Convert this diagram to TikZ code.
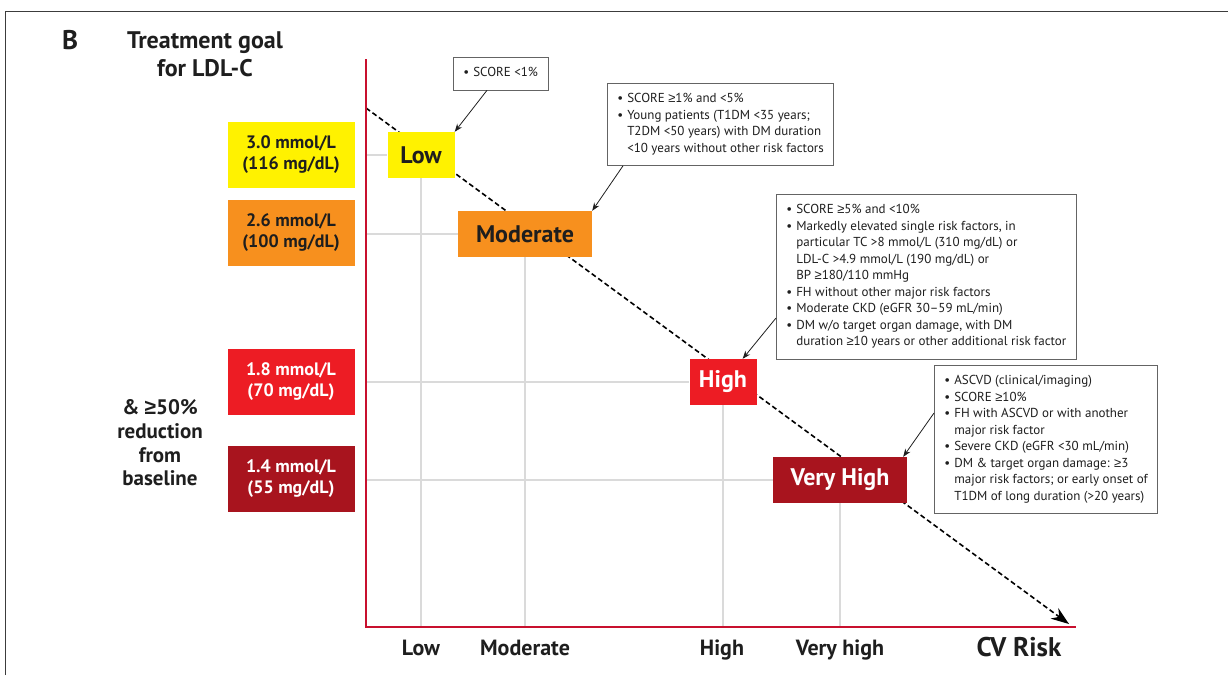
\documentclass[tikz,border=0pt]{standalone}
\usepackage{fontspec}
\setmainfont{PT Sans}
\newfontfamily\symfont{Liberation Sans}
\newcommand{\gesign}{{\symfont ≥}}
\usetikzlibrary{arrows.meta, positioning}
\definecolor{lowyellow}{RGB}{255, 242, 0}
\definecolor{modorange}{RGB}{247, 144, 30}
\definecolor{highred}{RGB}{237, 28, 36}
\definecolor{vhred}{RGB}{168, 20, 30}
\definecolor{axisred}{RGB}{200, 16, 46}
\definecolor{gridgray}{RGB}{218, 218, 218}
\definecolor{framegray}{RGB}{60, 60, 60}
\definecolor{notegray}{RGB}{100, 100, 100}
\definecolor{textdark}{RGB}{30, 30, 30}

\begin{document}
\begin{tikzpicture}[
    x=1pt, y=-1pt,
    goal/.style={rectangle, minimum width=127pt, minimum height=66pt, inner sep=0pt, align=center, font=\fontsize{18}{21}\selectfont\bfseries, text=textdark},
    risk/.style={rectangle, minimum height=46pt, inner sep=0pt, font=\fontsize{24}{26}\selectfont\bfseries, text=textdark},
    notebox/.style={rectangle, draw=notegray, fill=white, line width=0.8pt, anchor=north west, inner xsep=10pt, inner ysep=8pt, font=\fontsize{13}{16.5}\selectfont, text=textdark},
    arrow/.style={-{Stealth[length=8pt, width=6pt]}, line width=0.8pt, color=textdark},
    trend/.style={-{Stealth[length=18pt, width=13pt]}, line width=1.6pt, dash pattern=on 5pt off 3pt, color=black},
    gridline/.style={color=gridgray, line width=1.6pt},
    axisline/.style={color=axisred, line width=1.6pt},
    ticklabel/.style={anchor=base, font=\fontsize{22}{24}\selectfont\bfseries, text=textdark},
    heading/.style={align=center, font=\fontsize{24}{28}\selectfont\bfseries, text=textdark}
]
\useasboundingbox (0, 0) rectangle (1228, 675);

% Frame
\draw[framegray, line width=1pt] (5, 675) -- (5, 11) -- (1228, 11);

% Heading
\node[heading, font=\fontsize{27}{28}\selectfont\bfseries] (panel) at (70, 40) {B};
\node[heading] (title) at (205, 54) {Treatment goal\\for LDL-C};

% LDL-C goals
\node[goal, fill=lowyellow] (goallow) at (291, 155) {3.0 mmol/L\\(116 mg/dL)};
\node[goal, fill=modorange] (goalmod) at (291, 233) {2.6 mmol/L\\(100 mg/dL)};
\node[goal, fill=highred, text=white] (goalhigh) at (291, 382) {1.8 mmol/L\\(70 mg/dL)};
\node[goal, fill=vhred, text=white] (goalvh) at (291, 479) {1.4 mmol/L\\(55 mg/dL)};
\node[heading, font=\fontsize{21}{23.7}\selectfont\bfseries] (reduction) at (160, 443) {\& \gesign50\%\\reduction\\from\\baseline};

% Axes and trend
\coordinate (origin) at (366, 627);
\coordinate (ytop) at (366, 59);
\coordinate (xend) at (1076, 627);
\coordinate (trendstart) at (366, 108);
\coordinate (trendend) at (1069, 624);
\draw[trend] (trendstart) -- (trendend);

% Risk categories
\node[risk, fill=lowyellow, minimum width=67pt] (low) at (421, 155) {Low};
\node[risk, fill=modorange, minimum width=134pt] (moderate) at (525, 234) {Moderate};
\node[risk, fill=highred, minimum width=67pt, text=white] (high) at (723, 382) {High};
\node[risk, fill=vhred, minimum width=134pt, text=white] (veryhigh) at (840, 480) {Very High};

% Grid lines
\draw[gridline] (low.west -| origin) -- (low.west);
\draw[gridline] (moderate.west -| origin) -- (moderate.west);
\draw[gridline] (high.west -| origin) -- (high.west);
\draw[gridline] (veryhigh.west -| origin) -- (veryhigh.west);
\draw[gridline] (low.south) -- (low.south |- origin);
\draw[gridline] (moderate.south) -- (moderate.south |- origin);
\draw[gridline] (high.south) -- (high.south |- origin);
\draw[gridline] (veryhigh.south) -- (veryhigh.south |- origin);
\draw[axisline] (ytop) -- (origin) -- (xend);

% Axis labels
\node[ticklabel] (ticklow) at (421, 655) {Low};
\node[ticklabel] (tickmod) at (525, 655) {Moderate};
\node[ticklabel] (tickhigh) at (722, 655) {High};
\node[ticklabel] (tickvh) at (840, 655) {Very high};
\node[ticklabel, font=\fontsize{27}{28}\selectfont\bfseries] (cvrisk) at (1019, 656) {CV Risk};

% Criteria notes
\node[notebox] (notelow) at (453, 57) {\begin{tabular}{@{}l@{\hspace{4pt}}l@{}}
• & SCORE <1\%
\end{tabular}};
\node[notebox] (notemod) at (607, 83) {\begin{tabular}{@{}l@{\hspace{4pt}}l@{}}
• & SCORE \gesign1\% and <5\%\\
• & Young patients (T1DM <35 years;\\
  & T2DM <50 years) with DM duration\\
  & <10 years without other risk factors
\end{tabular}};
\node[notebox] (notehigh) at (776, 194) {\begin{tabular}{@{}l@{\hspace{4pt}}l@{}}
• & SCORE \gesign5\% and <10\%\\
• & Markedly elevated single risk factors, in\\
  & particular TC >8 mmol/L (310 mg/dL) or\\
  & LDL-C >4.9 mmol/L (190 mg/dL) or\\
  & BP \gesign180/110 mmHg\\
• & FH without other major risk factors\\
• & Moderate CKD (eGFR 30–59 mL/min)\\
• & DM w/o target organ damage, with DM\\
  & duration \gesign10 years or other additional risk factor
\end{tabular}};
\node[notebox] (notevh) at (934, 365) {\begin{tabular}{@{}l@{\hspace{4pt}}l@{}}
• & ASCVD (clinical/imaging)\\
• & SCORE \gesign10\%\\
• & FH with ASCVD or with another\\
  & major risk factor\\
• & Severe CKD (eGFR <30 mL/min)\\
• & DM \& target organ damage: \gesign3\\
  & major risk factors; or early onset of\\
  & T1DM of long duration (>20 years)
\end{tabular}};

% Note arrows
\draw[arrow] ([xshift=34pt]notelow.south west) -- (low.north east);
\draw[arrow] ([xshift=16pt]notemod.south west) -- (moderate.north east);
\draw[arrow] ([yshift=-124pt]notehigh.north west) -- ([xshift=-14pt]high.north east);
\draw[arrow] ([yshift=-48pt]notevh.north west) -- ([xshift=-4pt]veryhigh.north east);

\end{tikzpicture}
\end{document}
